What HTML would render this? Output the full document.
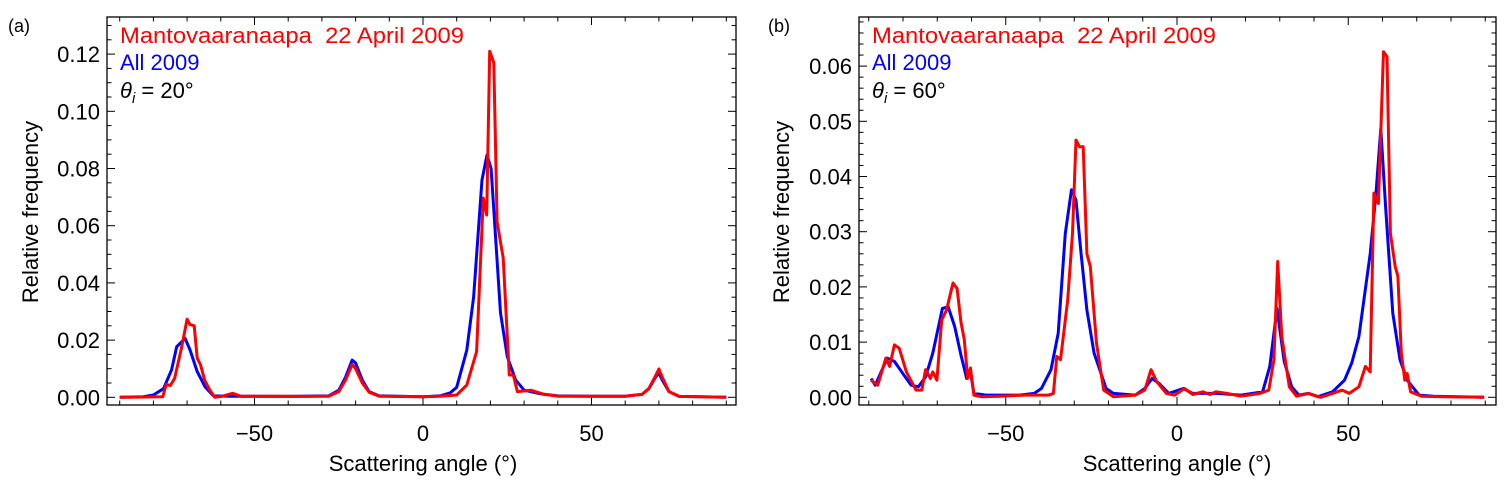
<!DOCTYPE html>
<html><head><meta charset="utf-8"><style>
html,body{margin:0;padding:0;background:#fff;}
svg{display:block;font-family:"Liberation Sans",Arial,sans-serif;}
</style></head><body>
<svg id="chart" width="1504" height="495" viewBox="0 0 1504 495" xmlns="http://www.w3.org/2000/svg"></svg>
<script>
// Panel (a) data
const aBlueAng = [-90,-83,-80,-77,-74.6,-73.1,-70.6,-69.1,-67,-64.7,-62.2,-57,-40,-28,-25,-23,-21,-20,-18,-16,-13,0,5,8,10,13,15,17.5,19,20.2,23,25,27.5,30,35,40,50,60,65,67,69,70,71,73,76,90];
const aBlueVal = [0,0.0002,0.0008,0.003,0.0096,0.0177,0.0206,0.0165,0.009,0.0037,0.0005,0.0004,0.0003,0.0005,0.0025,0.007,0.013,0.012,0.006,0.002,0.0005,0.0002,0.0005,0.0015,0.0035,0.0165,0.035,0.076,0.0847,0.080,0.0295,0.0142,0.006,0.0025,0.0012,0.0005,0.0004,0.0004,0.001,0.003,0.007,0.0085,0.006,0.002,0.0003,0];
const aRedAng = [-90,-77.2,-76.2,-75,-73.7,-71.7,-70,-69.2,-67.9,-67,-66,-64.8,-63.3,-61.8,-59.8,-56.5,-53.9,-45,-35,-28,-25,-23,-21,-20,-18,-16,-13,0,5,10,13,15.9,17.9,18.9,19.8,21,22,23.8,25.6,26.8,28,32,36,40,50,60,65,67,69,70,71,73,76,90];
const aRedVal = [0,0.0002,0.0045,0.0041,0.0066,0.0171,0.0273,0.0255,0.025,0.0137,0.0113,0.006,0.0026,0,0.0003,0.0014,0.0003,0.0004,0.0003,0.0004,0.002,0.006,0.0115,0.010,0.005,0.0018,0.0004,0.0002,0.0004,0.0008,0.0043,0.016,0.0697,0.0637,0.121,0.117,0.0614,0.0487,0.0078,0.0078,0.002,0.0025,0.001,0.0004,0.0004,0.0004,0.001,0.003,0.0075,0.0099,0.007,0.002,0.0003,0];
// Panel (b) data
const bBlueAng = [-89.3,-88.1,-84.6,-82.5,-79.7,-77.6,-75.5,-73.4,-71.3,-68.5,-66.8,-64.9,-63.1,-61.4,-60.4,-59.3,-55.8,-46,-41.7,-39.6,-36.8,-34.7,-32.6,-30.8,-29.5,-28,-26.3,-24.2,-20.7,-18.6,-12.2,-9.4,-7.3,-5.2,-2.4,1.8,4.6,11.7,18.7,25,27.1,29.2,31.3,33.5,35.6,38.4,41.2,45.4,48.9,51,53.1,56.4,58.1,59.5,60.9,63,65.1,67.2,70.7,74.9,89.7];
const bBlueVal = [0.0034,0.0022,0.0071,0.0065,0.004,0.0022,0.0019,0.0037,0.008,0.0161,0.0164,0.0128,0.0077,0.0034,0.005,0.0007,0.0004,0.0004,0.0007,0.0016,0.005,0.0116,0.0297,0.0376,0.0357,0.026,0.0158,0.008,0.0016,0.0007,0.0004,0.0016,0.0034,0.0025,0.0007,0.0016,0.0007,0.0007,0.0004,0.001,0.0056,0.0161,0.0065,0.0019,0.0004,0.0007,0.0001,0.001,0.0031,0.0062,0.011,0.026,0.037,0.0487,0.0345,0.0152,0.0068,0.0031,0.0004,0.0002,0];
const bRedAng = [-89.3,-87.4,-85,-83.9,-82.5,-81.1,-79,-76.2,-74.5,-73.4,-72,-71.3,-70.1,-68.7,-67.3,-65.4,-64.2,-63.1,-62.1,-61.1,-60.3,-59.3,-57.2,-51.6,-44.6,-37.5,-36.1,-35.1,-34,-31.9,-30.5,-29.5,-28.5,-27.4,-26.3,-25.3,-23.5,-21.4,-18.6,-12.2,-9.4,-7.6,-5.9,-3.1,-0.7,2.2,4.6,7.5,9.6,11.4,14.5,18.7,24.3,26.8,28.3,29.4,30.6,32.8,34.9,38.4,41.9,45.4,48.2,50.3,53.1,55,56.4,57.5,58.8,60.3,61.3,62.3,63.7,64.5,65.5,66.5,67.2,68.2,71.4,77.7,89.7];
const bRedVal = [0.0031,0.0022,0.0071,0.0056,0.0095,0.0089,0.0046,0.0013,0.0013,0.005,0.0034,0.0046,0.0031,0.014,0.0158,0.0207,0.0197,0.0137,0.0104,0.0034,0.0053,0.0004,0.0001,0.0002,0.0004,0.0004,0.0007,0.0074,0.0068,0.0176,0.0297,0.0466,0.0454,0.0454,0.026,0.0237,0.0098,0.0013,0.0001,0.0004,0.0013,0.005,0.0028,0.0007,0.0004,0.0016,0.0005,0.001,0.0005,0.001,0.0007,0.0002,0.0007,0.0013,0.0068,0.0246,0.011,0.0019,0.0002,0.0007,0,0.0007,0.0013,0.0007,0.0019,0.0056,0.0046,0.037,0.0351,0.0626,0.0617,0.0297,0.0237,0.0219,0.008,0.0031,0.0043,0.001,0.0002,0.0001,0];
const aYTicks = ["0.00","0.02","0.04","0.06","0.08","0.10","0.12"];
const bYTicks = ["0.00","0.01","0.02","0.03","0.04","0.05","0.06"];
const xTickLabels = ["\u221250","0","50"];

const svg = document.getElementById('chart');
const NS = 'http://www.w3.org/2000/svg';
function mk(tag, attrs, parent){const e=document.createElementNS(NS,tag);for(const k in attrs)e.setAttribute(k,attrs[k]);(parent||svg).appendChild(e);return e;}

function panel(cfg){
  const g = mk('g',{});
  
  
  const X = a => cfg.x0 + a*cfg.kx;
  const Y = v => cfg.y0 - v/cfg.ystep*cfg.ky;
  const frame = mk('rect',{x:cfg.L,y:17,width:cfg.R-cfg.L,height:388,fill:'none',stroke:'#000','stroke-width':1.3},g);
  
  
  for(let a=-90;a<=90;a+=10){
    const major = (a%50===0);
    const len = major?8:4.5;
    mk('line',{x1:X(a),x2:X(a),y1:405,y2:405-len,stroke:'#000','stroke-width':1},g);
    mk('line',{x1:X(a),x2:X(a),y1:17,y2:17+len,stroke:'#000','stroke-width':1},g);
  }
  [-50,0,50].forEach((a,i)=>{
    const t = mk('text',{x:X(a),y:441,'font-size':22,'text-anchor':'middle'},g);
    t.textContent = xTickLabels[i];
    
    
  });
  const nMinor = cfg.minor;
  for(let i=0;i<=cfg.ylabels.length*nMinor+nMinor;i++){
    const v = i*cfg.ystep/nMinor;
    const y = Y(v);
    if(y<18) break;
    const major = (i%nMinor===0);
    const len = major?8:4.5;
    mk('line',{x1:cfg.L,x2:cfg.L+len,y1:y,y2:y,stroke:'#000','stroke-width':1},g);
    mk('line',{x1:cfg.R,x2:cfg.R-len,y1:y,y2:y,stroke:'#000','stroke-width':1},g);
  }
  cfg.ylabels.forEach((lab,i)=>{
    const t = mk('text',{x:cfg.L-7,y:Y(i*cfg.ystep)+8,'font-size':22,'text-anchor':'end'},g);
    t.textContent = lab;
    
    
  });
  const xt = mk('text',{x:X(0),y:471,'font-size':22,'text-anchor':'middle'},g);
  xt.textContent = 'Scattering angle (\u00b0)';
  
  
  const yt = mk('text',{x:0,y:0,'font-size':22,'text-anchor':'middle',transform:`translate(${cfg.ytx},212) rotate(-90)`},g);
  yt.textContent = 'Relative frequency';
  
  
  const pl = mk('text',{x:cfg.plx,y:32,'font-size':18},g);
  pl.textContent = cfg.plabel;
  
  
  function series(ang, val, color, nm){
    const d = ang.map((a,i)=>(i?'L':'M')+X(a).toFixed(1)+','+Y(val[i]).toFixed(1)).join(' ');
    const p = mk('path',{d:d,fill:'none',stroke:color,'stroke-width':3,'stroke-linejoin':'round'},g);
    
    
  }
  series(cfg.bA, cfg.bV, '#0000ff', 'all-2009-line');
  series(cfg.rA, cfg.rV, '#ff0000', 'mantovaaranaapa-line');
  const l1 = mk('text',{x:cfg.L+13,y:43,'font-size':22,fill:'#ff0000',textLength:344,lengthAdjust:'spacingAndGlyphs'},g);
  l1.textContent = 'Mantovaaranaapa\u00a0 22 April 2009';
  
  
  const l2 = mk('text',{x:cfg.L+13,y:70,'font-size':22,fill:'#0000ff'},g);
  l2.textContent = 'All 2009';
  
  
  const l3 = mk('text',{x:cfg.L+13,y:98,'font-size':22,fill:'#000'},g);
  l3.innerHTML = '<tspan font-style="italic">\u03b8</tspan><tspan font-style="italic" font-size="15" dy="5">i</tspan><tspan dy="-5"> = '+cfg.theta+'\u00b0</tspan>';
  
  
}

panel({name:'panel-a',L:107,R:736,x0:423,kx:3.37,y0:397.3,ky:57.2,ystep:0.02,minor:4,ylabels:aYTicks,ytx:38,plx:8,plabel:'(a)',theta:20,bA:aBlueAng,bV:aBlueVal,rA:aRedAng,rV:aRedVal});
panel({name:'panel-b',L:859,R:1496,x0:1177,kx:3.425,y0:397.3,ky:55.2,ystep:0.01,minor:5,ylabels:bYTicks,ytx:789,plx:768,plabel:'(b)',theta:60,bA:bBlueAng,bV:bBlueVal,rA:bRedAng,rV:bRedVal});
</script>
</body></html>
